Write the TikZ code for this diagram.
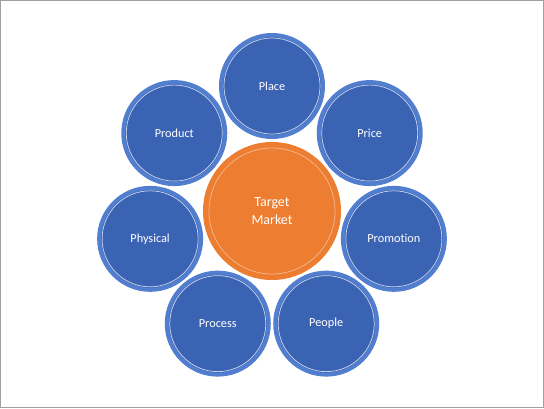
\documentclass[tikz,border=0pt]{standalone}
\usepackage{fontspec}
\setmainfont[Ligatures=NoCommon]{Carlito}
\usetikzlibrary{calc}
\definecolor{bluefill}{RGB}{59,99,180}
\definecolor{blueband}{RGB}{82,126,208}
\definecolor{orangefill}{RGB}{237,125,49}
\definecolor{framegray}{RGB}{160,160,160}
\tikzset{
  outerc/.style={circle, fill=bluefill, draw=blueband, line width=4bp,
    minimum size=102bp, inner sep=0pt, text=white,
    font=\fontsize{12.3}{14}\selectfont},
  centerc/.style={circle, fill=orangefill, draw=orangefill, line width=1bp,
    minimum size=137bp, inner sep=0pt, text=white, align=center,
    font=\fontsize{14}{18}\selectfont},
  ring/.style={draw=white, draw opacity=0.75, line width=0.7bp},
  oring/.style={draw=white, draw opacity=0.45, line width=0.7bp}
}
\begin{document}
\begin{tikzpicture}[x=1bp,y=-1bp]
\useasboundingbox (0,0) rectangle (544,408);
\draw[framegray, line width=1bp] (0.5,0.5) rectangle (543.5,407.5);
\coordinate (c) at (272,211);
\node[centerc] (target) at (c) {Target\\Market};
\draw[oring] (target.center) circle (63);
\foreach \name/\txt [count=\k from 0] in {place/Place, price/Price, promotion/Promotion, people/People, process/Process, physical/Physical, product/Product}{
  \node[outerc] (\name) at ($(c)+({-90+51.4286*\k}:125)$) {\txt};
  \draw[ring] (\name.center) circle (48);
}
\end{tikzpicture}
\end{document}
